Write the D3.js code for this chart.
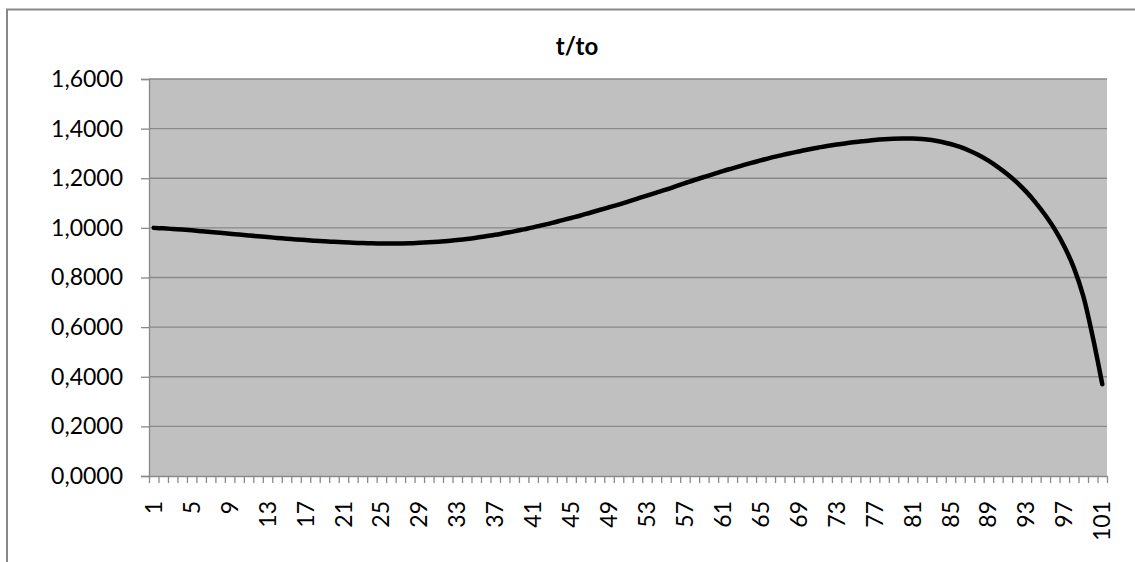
<!DOCTYPE html>
<html>
<head>
<meta charset="utf-8">
<script src="https://cdn.jsdelivr.net/npm/d3@7/dist/d3.min.js"></script>
<style>
  html, body { margin: 0; padding: 0; background: #ffffff; }
  svg { display: block; }
  text { font-family: Lato, "Open Sans", sans-serif; fill: #000; }
</style>
</head>
<body>
<svg id="chart" width="1135" height="562"></svg>
<script>
// Series t/to over 101 steps
const categories = d3.range(1, 102);
const ratio = [
  1.0000, 0.9980, 0.9955, 0.9930, 0.9900, 0.9868, 0.9835, 0.9800, 0.9765, 0.9730,
  0.9695, 0.9660, 0.9628, 0.9595, 0.9565, 0.9535, 0.9508, 0.9482, 0.9458, 0.9437,
  0.9418, 0.9402, 0.9388, 0.9378, 0.9372, 0.9370, 0.9373, 0.9380, 0.9400, 0.9420,
  0.9445, 0.9475, 0.9510, 0.9550, 0.9600, 0.9660, 0.9720, 0.9790, 0.9860, 0.9940,
  1.0020, 1.0110, 1.0200, 1.0300, 1.0400, 1.0500, 1.0610, 1.0720, 1.0830, 1.0940,
  1.1060, 1.1180, 1.1300, 1.1420, 1.1540, 1.1670, 1.1800, 1.1930, 1.2050, 1.2170,
  1.2290, 1.2400, 1.2510, 1.2620, 1.2720, 1.2820, 1.2910, 1.3000, 1.3080, 1.3160,
  1.3230, 1.3300, 1.3360, 1.3410, 1.3460, 1.3500, 1.3540, 1.3570, 1.3590, 1.3600,
  1.3600, 1.3580, 1.3540, 1.3470, 1.3380, 1.3260, 1.3110, 1.2930, 1.2710, 1.2450,
  1.2160, 1.1830, 1.1450, 1.1010, 1.0510, 0.9940, 0.9250, 0.8400, 0.7250, 0.5600,
  0.3700
];
const xTickLabels = [1, 5, 9, 13, 17, 21, 25, 29, 33, 37, 41, 45, 49, 53, 57, 61, 65, 69, 73, 77, 81, 85, 89, 93, 97, 101];
const yTicks = [0, 0.2, 0.4, 0.6, 0.8, 1.0, 1.2, 1.4, 1.6];
const title = "t/to";

const W = 1135, H = 562;
const plot = { left: 149, right: 1107, top: 79, bottom: 476 };
const labelSize = 23;

const svg = d3.select("#chart");

// chart frame
svg.append("path")
  .attr("d", `M7,${H} L7,9.5 L${W},9.5`)
  .attr("fill", "none")
  .attr("stroke", "#888888")
  .attr("stroke-width", 2);

const x = d3.scaleBand().domain(categories).range([plot.left, plot.right]).padding(0);
const xEdge = d3.scaleLinear().domain([0, categories.length]).range([plot.left, plot.right]);
const y = d3.scaleLinear().domain([0, 1.6]).range([plot.bottom, plot.top]);

const locale = d3.formatLocale({ decimal: ",", thousands: ".", grouping: [3], currency: ["", ""] });
const fmt = locale.format(".4f");

// plot area
svg.append("rect")
  .attr("x", plot.left).attr("y", plot.top)
  .attr("width", plot.right - plot.left).attr("height", plot.bottom - plot.top)
  .attr("fill", "#c0c0c0");

// gridlines
svg.append("g")
  .selectAll("line")
  .data(yTicks.filter(d => d > 0))
  .join("line")
  .attr("x1", plot.left).attr("x2", plot.right)
  .attr("y1", d => y(d)).attr("y2", d => y(d))
  .attr("stroke", "#898989")
  .attr("stroke-width", 1.3);

// y axis
const yAxis = svg.append("g")
  .attr("transform", `translate(${plot.left},0)`)
  .call(d3.axisLeft(y).tickValues(yTicks).tickFormat(fmt).tickSize(8).tickPadding(18));
yAxis.select(".domain").attr("stroke", "#898989").attr("stroke-width", 1.3);
yAxis.selectAll(".tick line").attr("stroke", "#898989").attr("stroke-width", 1.3);
yAxis.selectAll(".tick text").attr("font-size", labelSize).attr("font-family", "Lato, sans-serif").attr("fill", "#000");

// x axis tick marks between categories
const xMarks = svg.append("g")
  .attr("transform", `translate(0,${plot.bottom})`)
  .call(d3.axisBottom(xEdge).tickValues(d3.range(0, categories.length + 1)).tickFormat("").tickSize(7).tickSizeOuter(0));
xMarks.select(".domain").attr("stroke", "#898989").attr("stroke-width", 1.3);
xMarks.selectAll(".tick line").attr("stroke", "#898989").attr("stroke-width", 1.3);

// x axis labels
const xLabels = svg.append("g")
  .attr("transform", `translate(0,${plot.bottom})`)
  .call(d3.axisBottom(x).tickValues(xTickLabels).tickSize(0).tickPadding(0));
xLabels.select(".domain").remove();
xLabels.selectAll(".tick text")
  .attr("font-size", labelSize)
  .attr("font-family", "Lato, sans-serif")
  .attr("fill", "#000")
  .attr("text-anchor", "end")
  .attr("transform", "rotate(-90)")
  .attr("x", -25)
  .attr("y", 0)
  .attr("dy", "0.35em");

// series line
const line = d3.line()
  .x((d, i) => x(categories[i]) + x.bandwidth() / 2)
  .y(d => y(d))
  .curve(d3.curveCatmullRom);
svg.append("path")
  .datum(ratio)
  .attr("d", line)
  .attr("fill", "none")
  .attr("stroke", "#000")
  .attr("stroke-width", 4.5)
  .attr("stroke-linejoin", "round")
  .attr("stroke-linecap", "round");

// title
svg.append("text")
  .attr("x", 577).attr("y", 55)
  .attr("text-anchor", "middle")
  .attr("font-size", 24)
  .attr("font-weight", "bold")
  .text(title);
</script>
</body>
</html>
